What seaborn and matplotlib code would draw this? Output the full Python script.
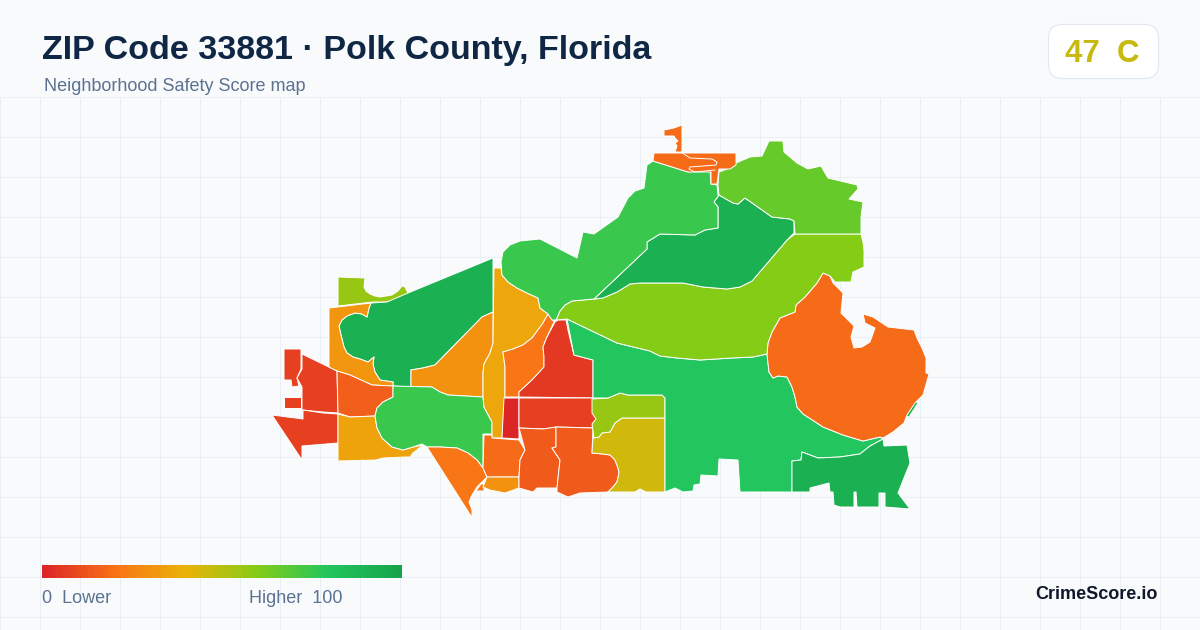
import matplotlib
matplotlib.use("Agg")
import matplotlib.pyplot as plt
import numpy as np
import seaborn as sns
from matplotlib.patches import FancyBboxPatch

# colour scale of the score, low to high
SCALE_COLORS = ["#dc2626", "#f97316", "#eab308", "#84cc16", "#22c55e", "#16a34a"]
LEGEND_SCORES = np.arange(0, 101)

TITLE = "ZIP Code 33881 · Polk County, Florida"
SUBTITLE = "Neighborhood Safety Score map"
BADGE = "47  C"

# neighbourhood outlines (map units = image pixels)
WEST_TIP = [(284, 349), (301, 349), (301, 369), (297, 378), (299, 386), (292, 387), (291, 380), (284, 380)]
WEST_BLOCK = [(284, 397), (301, 397), (301, 408), (284, 408)]
WEST_MAIN = [(302, 354), (337, 371), (338, 413), (323, 412), (302, 410), (302, 387), (297, 378), (302, 369)]
WEST_LOW = [(272, 415), (303, 419), (303, 410), (323, 413), (338, 414), (338, 443), (302, 446), (302, 460)]
NW_CAP = [(338, 277), (365, 278), (364, 287), (366, 291), (370, 294), (375, 296), (380, 297), (392, 295), (398, 291),
          (402, 286), (405, 287), (408, 293), (397, 299), (387, 302), (373, 302), (338, 306)]
NW_PARK = [(493, 258), (493, 312), (482, 317), (435, 365), (423, 368), (411, 370), (411, 387), (393, 386), (393, 382),
           (380, 380), (375, 372), (373, 364), (374, 357), (368, 362), (360, 359), (353, 357), (347, 353), (344, 347),
           (341, 335), (339, 326), (342, 320), (347, 316), (355, 313), (362, 314), (367, 317), (369, 308), (371, 303),
           (387, 302), (408, 293)]
NW_RING = [(329, 308), (371, 303), (369, 308), (367, 317), (362, 314), (355, 313), (347, 316), (342, 320), (339, 326),
           (341, 335), (344, 347), (347, 353), (353, 357), (360, 359), (368, 362), (374, 357), (373, 364), (375, 372),
           (380, 380), (393, 382), (393, 386), (372, 385), (350, 375), (337, 371), (329, 367)]
MID_WEDGE = [(411, 370), (423, 368), (435, 365), (482, 317), (493, 312), (493, 343), (490, 353), (484, 364), (483, 373),
             (483, 397), (448, 395), (440, 392), (432, 387), (411, 387)]
WEST_MID = [(337, 371), (350, 375), (372, 385), (393, 386), (393, 397), (383, 402), (377, 408), (375, 416), (350, 417),
            (338, 413)]
SW_AMBER = [(338, 414), (350, 417), (375, 416), (377, 428), (382, 438), (392, 447), (403, 450), (413, 447), (423, 445),
            (413, 453), (410, 457), (405, 457), (383, 458), (376, 460), (338, 461)]
SW_BLOB = [(393, 386), (432, 387), (440, 392), (448, 395), (483, 397), (484, 407), (492, 422), (492, 434), (483, 434),
           (483, 468), (477, 460), (468, 453), (457, 448), (440, 447), (427, 447), (422, 444), (413, 447), (403, 450),
           (392, 447), (382, 438), (377, 428), (375, 416), (377, 408), (383, 402), (393, 397)]
SW_SPIKE = [(427, 447), (440, 447), (457, 448), (468, 453), (477, 460), (483, 468), (487, 477), (477, 487), (472, 495),
            (469, 502), (472, 510), (472, 516), (471, 516)]
SW_CHIP = [(476, 491), (481, 484), (484, 484), (484, 491)]
CENTER_COLUMN = [(494, 268), (501, 268), (502, 275), (508, 282), (517, 288), (527, 293), (538, 298), (540, 308), (548, 314),
                 (543, 323), (532, 338), (523, 345), (513, 349), (503, 352), (505, 367), (505, 397), (502, 438), (492, 438),
                 (492, 422), (484, 407), (483, 397), (483, 373), (484, 364), (490, 353), (493, 343)]
CENTER_ORANGE = [(503, 352), (513, 349), (523, 345), (532, 338), (543, 323), (548, 314), (554, 322), (547, 337), (543, 347),
                 (544, 357), (544, 367), (532, 380), (519, 392), (519, 397), (505, 397), (505, 367)]
CENTER_RED = [(555, 322), (558, 320), (566, 320), (568, 330), (572, 347), (574, 355), (593, 360), (593, 398), (519, 397),
              (519, 392), (532, 380), (544, 367), (544, 357), (543, 347), (547, 337)]
CENTER_CORE = [(504, 398), (519, 398), (519, 439), (502, 438)]
CENTER_BAND = [(519, 398), (593, 398), (593, 413), (597, 418), (593, 423), (593, 428), (557, 427), (543, 429), (519, 428)]
SOUTH_A = [(484, 435), (492, 435), (492, 438), (519, 440), (525, 450), (520, 460), (519, 477), (487, 477), (483, 468)]
SOUTH_B = [(487, 477), (519, 477), (519, 488), (505, 493), (490, 490), (483, 487)]
SOUTH_C = [(519, 428), (543, 429), (556, 427), (556, 447), (552, 448), (560, 460), (557, 488), (537, 488),
           (533, 492), (519, 488), (519, 477), (520, 460), (525, 450)]
SOUTH_D = [(556, 427), (593, 428), (592, 453), (603, 454), (610, 455), (615, 460), (618, 468), (619, 473), (617, 482),
           (613, 487), (608, 492), (580, 493), (568, 497), (557, 492), (557, 488), (560, 460), (552, 448), (556, 447)]
SOUTH_GOLD = [(593, 438), (599, 437), (602, 433), (610, 432), (615, 423), (622, 418), (665, 418), (665, 492), (646, 492),
              (640, 489), (635, 492), (608, 492), (613, 487), (617, 482), (619, 473), (618, 468), (615, 460), (610, 455),
              (603, 454), (592, 453)]
SOUTH_LIME = [(592, 399), (608, 398), (620, 393), (628, 395), (662, 395), (665, 398), (665, 418), (622, 418), (615, 423),
              (610, 432), (602, 433), (599, 437), (594, 438), (592, 424), (596, 419), (592, 413)]
EAST_GREEN = [(567, 319), (617, 343), (650, 351), (660, 356), (677, 358), (700, 360), (732, 358), (753, 357), (767, 354),
              (769, 372), (773, 378), (778, 376), (787, 377), (792, 387), (795, 397), (797, 407), (803, 414), (817, 423),
              (823, 427), (843, 435), (863, 441), (880, 437), (883, 439), (870, 446), (860, 454), (840, 457), (818, 458),
              (802, 452), (801, 460), (792, 461), (792, 492), (740, 492), (738, 460), (719, 459), (718, 476), (701, 475),
              (700, 484), (694, 485), (693, 491), (683, 492), (675, 488), (665, 492), (665, 398), (662, 395), (628, 395),
              (620, 393), (608, 398), (593, 398), (593, 360), (574, 355)]
SE_DARK = [(792, 461), (801, 460), (802, 452), (818, 458), (840, 457), (860, 454), (870, 446), (883, 439), (884, 446),
           (907, 445), (910, 463), (898, 493), (910, 509), (885, 507), (885, 493), (879, 493), (879, 507), (857, 507),
           (856, 492), (854, 492), (854, 507), (840, 507), (834, 505), (833, 492), (830, 492), (829, 483),
           (810, 488), (810, 492), (792, 492)]
SE_SLIVER = [(906, 416), (915, 401), (918, 403), (909, 417)]
EAST_ORANGE = [(823, 273), (830, 276), (833, 283), (843, 293), (841, 313), (854, 326), (851, 337), (854, 348),
               (862, 347), (870, 342), (875, 328), (865, 323), (863, 314), (873, 317), (888, 327), (914, 330),
               (917, 338), (922, 348), (926, 358), (926, 373), (929, 374), (923, 395), (915, 403), (907, 415), (904, 423),
               (893, 432), (883, 438), (880, 437), (863, 441), (843, 435), (823, 427), (817, 423), (803, 414), (797, 407),
               (795, 397), (792, 387), (787, 377), (778, 376), (773, 378), (769, 372), (767, 354), (768, 343), (772, 332),
               (780, 318), (795, 312), (796, 305), (805, 297), (817, 283)]
LIME_BELT = [(556, 320), (560, 311), (565, 305), (572, 301), (595, 299), (603, 298), (617, 292), (630, 284), (640, 283),
             (683, 283), (703, 287), (727, 289), (740, 287), (752, 281), (770, 260), (787, 240), (795, 234), (861, 234),
             (863, 242), (864, 250), (864, 267), (853, 272), (851, 282), (835, 282), (830, 276), (823, 273), (817, 283),
             (805, 297), (796, 305), (795, 312), (780, 318), (772, 332), (768, 343), (767, 354), (753, 357), (732, 358),
             (700, 360), (677, 358), (660, 356), (650, 351), (617, 343), (567, 319)]
NORTH_DARK = [(594, 299), (647, 249), (647, 242), (660, 234), (695, 235), (705, 230), (718, 228), (718, 207),
              (714, 202), (719, 195), (733, 203), (738, 204), (745, 198), (772, 217), (790, 219), (794, 221),
              (794, 233), (787, 240), (770, 260), (752, 281), (740, 287), (727, 289), (703, 287), (683, 283), (640, 283),
              (630, 284), (617, 292), (603, 298)]
NORTH_GREEN = [(653, 161), (688, 172), (710, 170), (711, 184), (717, 185), (718, 195), (719, 195), (714, 202),
               (718, 207), (718, 228), (705, 230), (695, 235), (660, 234), (647, 242), (647, 249), (594, 299),
               (572, 301), (565, 305), (560, 311), (556, 320), (552, 320), (548, 314), (540, 308), (538, 298), (527, 293),
               (517, 288), (508, 282), (502, 275), (501, 262), (503, 252), (510, 245), (520, 241), (540, 239), (577, 258),
               (583, 232), (594, 234), (618, 217), (628, 198), (635, 191), (644, 188), (647, 165)]
NE_LIME = [(719, 172), (730, 168), (736, 163), (750, 157), (762, 156), (769, 141), (783, 141), (784, 152),
           (797, 163), (808, 169), (821, 166), (828, 178), (857, 185), (858, 189), (849, 199), (863, 202),
           (861, 217), (861, 234), (795, 234), (794, 221), (790, 219), (772, 217), (745, 198), (738, 204),
           (733, 203), (719, 195), (718, 185)]
TOP_BAR = [(654, 153), (736, 153), (736, 165), (730, 169), (719, 169), (717, 184), (711, 184), (711, 172),
           (688, 172), (653, 161)]
TOP_STEM = [(675, 152), (677, 146), (675, 143), (678, 141), (675, 138), (674, 136), (664, 136), (664, 130),
            (674, 128), (682, 125), (682, 152)]
TOP_LOOP = [(681, 152), (690, 158), (712, 159), (717, 162), (716, 165), (690, 167), (689, 169), (695, 172), (715, 170)]

ZONES = [WEST_TIP, WEST_BLOCK, WEST_MAIN, WEST_LOW, NW_CAP, NW_PARK, NW_RING, MID_WEDGE, WEST_MID, SW_AMBER,
         SW_BLOB, SW_SPIKE, SW_CHIP, CENTER_COLUMN, CENTER_ORANGE, CENTER_RED, CENTER_CORE, CENTER_BAND, SOUTH_A,
         SOUTH_B, SOUTH_C, SOUTH_D, SOUTH_GOLD, SOUTH_LIME, EAST_GREEN, SE_DARK, SE_SLIVER, EAST_ORANGE, LIME_BELT,
         NORTH_DARK, NORTH_GREEN, NE_LIME, TOP_BAR, TOP_STEM]
ZONE_SCORES = [7, 7, 7, 7, 56, 92, 31, 30, 15, 35, 75, 21, 21, 36, 21, 5, 0, 7, 18, 30, 14, 14, 45, 56, 80, 92, 92,
               18, 60, 92, 75, 66, 18, 18]

sns.set_theme(style="white")
plt.rcParams["font.family"] = ["Liberation Sans", "DejaVu Sans"]

BG = "#f8fafc"
GRID = "#e8f0f5"
SLATE = "#5b7291"
scale = sns.blend_palette(SCALE_COLORS, n_colors=256, as_cmap=True)

fig = plt.figure(figsize=(12, 6.3), dpi=100, facecolor=BG)
ax = fig.add_axes([0, 0, 1, 1], facecolor=BG)
ax.set_xlim(0, 1200)
ax.set_ylim(630, 0)
ax.axis("off")

# background grid, below the header only
for x in np.arange(0, 1200, 40):
    ax.plot([x, x], [97, 630], color=GRID, lw=0.72, zorder=1)
for y in np.arange(97, 630, 40):
    ax.plot([0, 1200], [y, y], color=GRID, lw=0.72, zorder=1)

# the map
for zone, score in zip(ZONES, ZONE_SCORES):
    xs, ys = zip(*zone)
    ax.fill(xs, ys, facecolor=scale(score / 100), edgecolor="white", lw=0.7, zorder=2, joinstyle="round")
loop_x, loop_y = zip(*TOP_LOOP)
ax.plot(loop_x, loop_y, color="white", lw=0.7, zorder=3)

# header
ax.text(42, 59, TITLE, fontsize=24.5, fontweight="bold", color="#0f2744", va="baseline", zorder=5)
ax.text(44, 91, SUBTITLE, fontsize=12.96, color=SLATE, va="baseline", zorder=5)
badge = FancyBboxPatch((1062.5, 38.5), 82, 26, boxstyle="round,pad=14,rounding_size=14",
                       facecolor="white", edgecolor="#e2e8f0", lw=0.8, zorder=3)
ax.add_patch(badge)
ax.text(1065, 62, BADGE, fontsize=22.5, fontweight="bold", color="#c8b90f", va="baseline", zorder=5)

# legend bar
bar_ax = fig.add_axes([42 / 1200, 1 - 578 / 630, 360 / 1200, 13 / 630])
sns.heatmap(LEGEND_SCORES[np.newaxis, :], cmap=scale, vmin=0, vmax=100, cbar=False, xticklabels=False,
            yticklabels=False, ax=bar_ax, rasterized=True)
ax.text(42, 603, "0  Lower", fontsize=12.96, color=SLATE, va="baseline", zorder=5)
ax.text(249, 603, "Higher  100", fontsize=12.96, color=SLATE, va="baseline", zorder=5)
ax.text(1158, 599, "CrimeScore.io", fontsize=13, fontweight="bold", color="#0f172a", ha="right", va="baseline", zorder=5)

fig.savefig("out.png", dpi=100, facecolor=BG)
